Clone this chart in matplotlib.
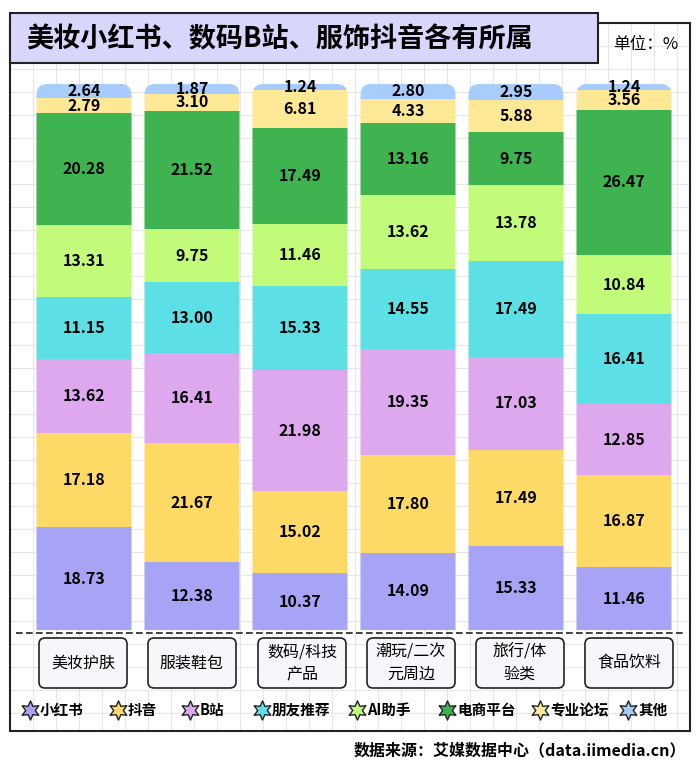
import matplotlib
matplotlib.use("Agg")
import matplotlib.pyplot as plt
from matplotlib.patches import FancyBboxPatch, Rectangle
import numpy as np

plt.rcParams['font.family'] = ['Noto Sans CJK SC', 'DejaVu Sans']

categories = ["美妆护肤", "服装鞋包", "数码/科技\n产品", "潮玩/二次\n元周边", "旅行/体\n验类", "食品饮料"]
series = ["小红书", "抖音", "B站", "朋友推荐", "AI助手", "电商平台", "专业论坛", "其他"]
xiaohongshu = [18.73, 12.38, 10.37, 14.09, 15.33, 11.46]
douyin = [17.18, 21.67, 15.02, 17.80, 17.49, 16.87]
bzhan = [13.62, 16.41, 21.98, 19.35, 17.03, 12.85]
pengyou = [11.15, 13.00, 15.33, 14.55, 17.49, 16.41]
ai = [13.31, 9.75, 11.46, 13.62, 13.78, 10.84]
dianshang = [20.28, 21.52, 17.49, 13.16, 9.75, 26.47]
zhuanye = [2.79, 3.10, 6.81, 4.33, 5.88, 3.56]
qita = [2.64, 1.87, 1.24, 2.80, 2.95, 1.24]
colors = ["#a7a3f5", "#fdd966", "#dea8ef", "#5ce0e6", "#c2fb7a", "#3fb34f", "#fde995", "#a8cdfc"]
data = [xiaohongshu, douyin, bzhan, pengyou, ai, dianshang, zhuanye, qita]

W, H = 700, 767
fig = plt.figure(figsize=(7, 7.67), dpi=100)
bg = fig.add_axes([0, 0, 1, 1])
bg.set_xlim(0, W); bg.set_ylim(H, 0); bg.axis('off')

# frame + grid
fx0, fx1, fy0, fy1 = 10, 690, 23, 731
for gx in np.arange(fx0, fx1, 23):
    bg.plot([gx, gx], [fy0, fy1], color="#e6e6e6", lw=0.8, zorder=0)
for gy in np.arange(fy0, fy1, 23):
    bg.plot([fx0, fx1], [gy, gy], color="#e6e6e6", lw=0.8, zorder=0)
bg.add_patch(Rectangle((fx0, fy0), fx1 - fx0, fy1 - fy0, fill=False, ec="#222", lw=1.5, zorder=1))
bg.add_patch(Rectangle((10, 13), 588, 50, fc="#d9d6fb", ec="#222", lw=1.5, zorder=2))
bg.text(26, 39, "美妆小红书、数码B站、服饰抖音各有所属", fontsize=19.5, fontweight='bold', va='center', ha='left', zorder=3)
bg.text(646, 45, "单位：%", fontsize=12, va='center', ha='center', zorder=3)
bg.plot([16, 684], [633, 633], ls=(0, (4, 2)), color="#222", lw=1.2, zorder=2)
bg.text(686, 750, "数据来源：艾媒数据中心（data.iimedia.cn）", fontsize=11.5, fontweight='bold', ha='right', va='center')

ax = fig.add_axes([30 / W, 1 - 630 / H, (680 - 32) / W, 548 / H])
ax.set_xlim(-0.5, 5.5); ax.set_ylim(0, 100); ax.axis('off')
x = np.arange(len(categories))
bw = 0.88
bottom = np.zeros(len(categories))
for vals, c in zip(data, colors):
    v = np.array(vals)
    ax.bar(x, v, bw, bottom=bottom, color=c, zorder=2)
    for i, val in enumerate(v):
        ax.text(x[i], bottom[i] + val / 2, f"{val:.2f}", ha='center', va='center', fontsize=11.5, fontweight='bold', zorder=3)
    bottom = bottom + v
totals = bottom
for i, p in enumerate(ax.patches):
    col = i % len(categories)
    cp = FancyBboxPatch((x[col] - bw / 2, -30), bw, totals[col] + 30,
                        boxstyle="round,pad=0,rounding_size=0.11", mutation_aspect=19,
                        transform=ax.transData, fc='none', ec='none')
    p.set_clip_path(cp)

# category boxes
centers = [83, 192, 302, 411, 520, 629]
for cx, lab in zip(centers, categories):
    bg.add_patch(FancyBboxPatch((cx - 44, 638), 88, 50, boxstyle="round,pad=0,rounding_size=6",
                                fc="#f7f7fb", ec="#222", lw=1.2, zorder=3))
    bg.text(cx, 663, lab, ha='center', va='center', fontsize=11.5, linespacing=1.4, zorder=4)

# legend
lx = [30, 118, 190, 262, 357, 447, 540, 628]
for px, s, c in zip(lx, series, colors):
    bg.scatter([px], [710], marker=(6, 1, 0), s=190, c=c, edgecolors="#222", linewidths=1, zorder=4)
    bg.text(px + 10, 710, s, ha='left', va='center', fontsize=10.5, fontweight='bold', zorder=4)

fig.savefig("out.png", dpi=100)
